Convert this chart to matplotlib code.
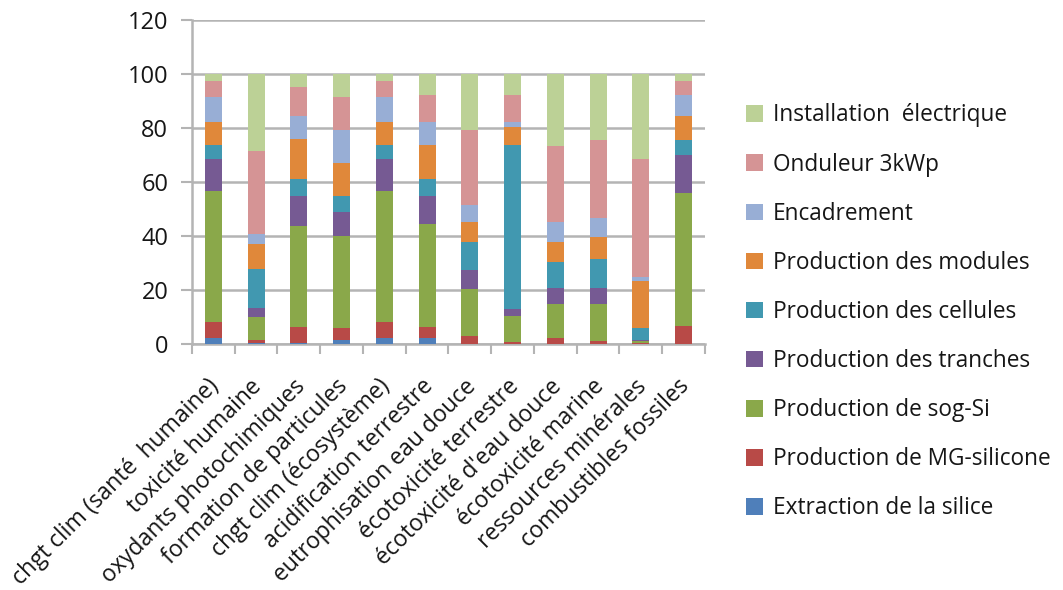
import matplotlib
matplotlib.use("Agg")
import matplotlib.pyplot as plt
import matplotlib.transforms as mtransforms
import numpy as np

categories = [
    "chgt clim (santé  humaine)", "toxicité humaine", "oxydants photochimiques",
    "formation de particules", "chgt clim (écosystème)", "acidification terrestre",
    "eutrophisation eau douce", "écotoxicité terrestre", "écotoxicité d'eau douce",
    "écotoxicité marine", "ressources minérales", "combustibles fossiles",
]

series_names = [
    "Extraction de la silice", "Production de MG-silicone", "Production de sog-Si",
    "Production des tranches", "Production des cellules", "Production des modules",
    "Encadrement", "Onduleur 3kWp", "Installation  électrique",
]

extraction   = [2.3, 0.3, 0.3, 1.5, 2.3, 2.1, 0.0, 0.0, 0.0, 0.0, 0.0, 0.0]
mg_silicone  = [6.0, 1.2, 6.1, 4.3, 6.0, 4.3, 3.0, 0.9, 2.1, 1.2, 0.2, 6.7]
sog_si       = [48.4, 8.4, 37.3, 34.1, 48.4, 38.2, 17.2, 9.4, 12.9, 13.8, 1.0, 49.3]
tranches     = [11.8, 3.3, 11.3, 9.0, 11.8, 10.4, 7.4, 2.5, 5.8, 5.8, 0.3, 14.1]
cellules     = [5.4, 14.5, 6.2, 6.1, 5.4, 6.2, 10.2, 61.0, 9.4, 10.6, 4.5, 5.5]
modules      = [8.5, 9.2, 14.8, 12.1, 8.5, 12.6, 7.4, 6.5, 7.6, 8.3, 17.3, 9.0]
encadrement  = [9.2, 4.0, 8.6, 12.2, 9.2, 8.6, 6.2, 2.1, 7.4, 7.1, 1.6, 7.6]
onduleur     = [5.9, 30.5, 10.5, 12.1, 5.9, 9.8, 27.7, 9.8, 28.0, 28.6, 43.6, 5.1]
installation = [2.5, 28.6, 4.9, 8.6, 2.5, 7.8, 20.9, 7.8, 26.8, 24.6, 31.5, 2.7]

series_values = [extraction, mg_silicone, sog_si, tranches, cellules,
                 modules, encadrement, onduleur, installation]

colors = ["#4f7fba", "#b84a47", "#8aa84a", "#765a93", "#4198b0",
          "#e0883a", "#98aed5", "#d59495", "#bcd196"]

plt.rcParams["font.family"] = ["Open Sans", "DejaVu Sans"]

fig = plt.figure(figsize=(10.63, 5.90), dpi=100)
ax = fig.add_axes([0.1806, 0.4169, 0.4826, 0.5491])

x = np.arange(len(categories))
bottom = np.zeros(len(categories))
handles = []
for name, vals, col in zip(series_names, series_values, colors):
    vals = np.array(vals)
    h = ax.bar(x, vals, width=0.4, bottom=bottom, color=col, label=name,
               zorder=3, linewidth=0)
    handles.append(h)
    bottom += vals

grid_col = "#b4b4b4"
text_col = "#161616"
ax.set_ylim(0, 120)
ax.set_xlim(-0.5, len(categories) - 0.5)
ax.set_yticks(np.arange(0, 121, 20))
ax.yaxis.grid(True, color=grid_col, linewidth=1.8, zorder=0)
ax.set_axisbelow(True)

for s in ["top", "right"]:
    ax.spines[s].set_visible(False)
for s in ["left", "bottom"]:
    ax.spines[s].set_color(grid_col)
    ax.spines[s].set_linewidth(1.8)

# tick marks at category boundaries, labels at bar centres
ax.set_xticks(np.arange(-0.5, len(categories), 1.0))
ax.set_xticklabels([])
ax.set_xticks(x, minor=True)
ax.set_xticklabels(categories, minor=True, rotation=45, ha="right",
                   rotation_mode="anchor", fontsize=16.6, color=text_col)
ax.tick_params(axis="x", which="major", length=7, color=grid_col, width=1.5)
ax.tick_params(axis="x", which="minor", length=0, pad=22)
ax.tick_params(axis="y", length=8, color=grid_col, width=1.5, labelsize=17,
               labelcolor=text_col, pad=9)

shift = mtransforms.ScaledTranslation(-6 / 100, 0, fig.dpi_scale_trans)
for lbl in ax.get_xticklabels(minor=True):
    lbl.set_transform(lbl.get_transform() + shift)

leg = fig.legend(handles[::-1], series_names[::-1], loc="upper left",
                 bbox_to_anchor=(0.693, 0.840), frameon=False, fontsize=16.3,
                 handlelength=0.75, handleheight=0.75, labelspacing=1.11,
                 handletextpad=0.45, borderaxespad=0)
for t in leg.get_texts():
    t.set_color(text_col)

fig.savefig("out.png", dpi=100)
